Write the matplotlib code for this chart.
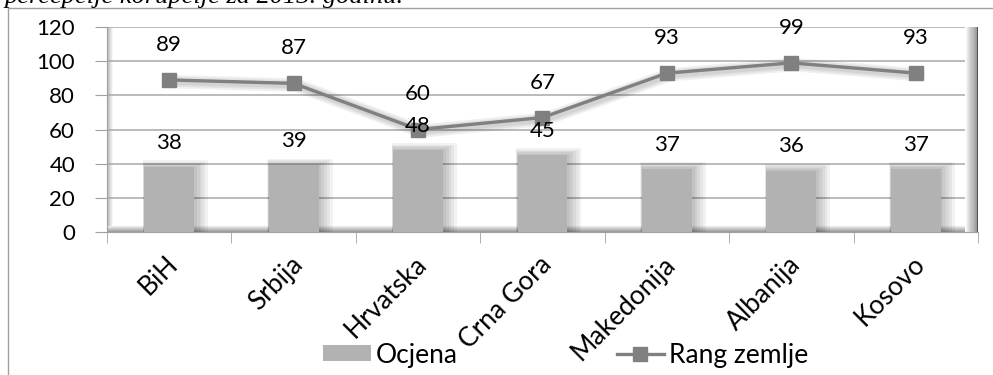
import matplotlib
matplotlib.use("Agg")
import matplotlib.pyplot as plt
import matplotlib.transforms as mtransforms
from matplotlib.lines import Line2D
from matplotlib.patches import Rectangle
import numpy as np

plt.rcParams['font.family'] = ['Lato', 'DejaVu Sans']

countries = ['BiH', 'Srbija', 'Hrvatska', 'Crna Gora', 'Makedonija', 'Albanija', 'Kosovo']
ocjena = [38, 39, 48, 45, 37, 36, 37]
rang = [89, 87, 60, 67, 93, 99, 93]
y_ticks = [0, 20, 40, 60, 80, 100, 120]

BAR_COLOR = '#b2b2b2'
LINE_COLOR = '#808080'
GRID_COLOR = '#a8a8a8'
FS = 16        # numbers
FS_TEXT = 19   # category names and legend

W, H = 993, 375
fig = plt.figure(figsize=(W / 100, H / 100), dpi=100)

# plot area in pixel coordinates
left_px, right_px, bottom_px, top_px = 107, 978, 232, 27
ax = fig.add_axes([left_px / W, 1 - bottom_px / H,
                   (right_px - left_px) / W, (bottom_px - top_px) / H])

x = np.arange(len(countries))
ax.set_xlim(-0.5, len(countries) - 0.5)
ax.set_ylim(0, 120)

# back wall shading: left wall, floor and right edge
for i in range(6):
    g = 0.72 + i * 0.05
    ax.add_patch(Rectangle((i * 0.0012, 0), 0.0012, 1, transform=ax.transAxes,
                           color=str(min(g, 1)), lw=0, zorder=0.5))
for i in range(6):
    g = 0.62 + i * 0.06
    ax.add_patch(Rectangle((0, i * 0.005), 1, 0.005, transform=ax.transAxes,
                           color=str(min(g, 1)), lw=0, zorder=0.6))
for i in range(12):
    g = 1.0 - i * 0.04
    ax.add_patch(Rectangle((0.985 + i * 0.00125, 0), 0.00125, 1, transform=ax.transAxes,
                           color=str(g), lw=0, zorder=0.7))
ax.add_patch(Rectangle((0.9985, 0), 0.0015, 1, transform=ax.transAxes,
                       color='#555555', lw=0, zorder=0.8))

ax.set_yticks(y_ticks)
ax.yaxis.grid(True, color=GRID_COLOR, lw=1.1, zorder=0.9)
ax.set_axisbelow(True)

# soft shadow behind the bars
for k in range(1, 6):
    ax.bar(x + 0.01 * k, [v + 0.8 * k for v in ocjena], width=0.40 + 0.025 * k,
           color='black', alpha=0.05, lw=0, zorder=1.5)
bars = ax.bar(x, ocjena, width=0.40, color=BAR_COLOR, lw=0, zorder=2, label='Ocjena')

# line with shadow
for k in range(1, 4):
    ax.plot(x + 0.02, [v - 1.0 for v in rang], color='black', alpha=0.06,
            lw=2.2 + 2.5 * k, solid_capstyle='round', zorder=2.5)
line, = ax.plot(x, rang, color=LINE_COLOR, lw=2.4, marker='s', markersize=10,
                markerfacecolor=LINE_COLOR, markeredgecolor=LINE_COLOR, zorder=3,
                label='Rang zemlje')

for xi, v in zip(x, ocjena):
    ax.annotate(str(v), (xi, v), xytext=(0, 24), textcoords='offset pixels',
                ha='center', va='center', fontsize=FS, zorder=4)
for xi, v in zip(x, rang):
    ax.annotate(str(v), (xi, v), xytext=(0, 35), textcoords='offset pixels',
                ha='center', va='center', fontsize=FS, zorder=4)

# axes styling
for s in ['top', 'right']:
    ax.spines[s].set_visible(False)
ax.spines['left'].set_color('#a0a0a0')
ax.spines['bottom'].set_color('#a0a0a0')
ax.tick_params(axis='y', length=9, color='#a0a0a0', labelsize=FS, pad=14)

ax.set_xticks(x)
ax.set_xticklabels(countries, rotation=45, ha='right', rotation_mode='anchor', fontsize=FS_TEXT)
ax.set_xticks(np.arange(-0.5, len(countries)), minor=True)
ax.tick_params(axis='x', which='major', length=0, pad=14)
ax.tick_params(axis='x', which='minor', length=8, color='#a0a0a0')
shift = mtransforms.ScaledTranslation(-4 / 100, 0, fig.dpi_scale_trans)
for lbl in ax.get_xticklabels():
    lbl.set_transform(lbl.get_transform() + shift)

fig.legend([bars, line], ['Ocjena', 'Rang zemlje'], loc='center',
           bbox_to_anchor=(566 / W, 1 - 355 / H), ncol=2,
           frameon=False, fontsize=FS_TEXT, handlelength=1.8, handleheight=0.55,
           columnspacing=6.0, handletextpad=0.2, borderpad=0)

# outer chart frame
fig.add_artist(Line2D([8 / W, 8 / W], [0, 1 - 8 / H], color='#a0a0a0', lw=1))
fig.add_artist(Line2D([8 / W, 1], [1 - 8 / H, 1 - 8 / H], color='#a0a0a0', lw=1))

# caption text above the chart, partly cut by the top edge
fig.text(5 / W, 1 - 3 / H, 'percepcije korupcije za 2013. godinu.', family='Liberation Serif',
         style='italic', fontsize=19, ha='left', va='baseline')

fig.savefig('out.png', dpi=100)
